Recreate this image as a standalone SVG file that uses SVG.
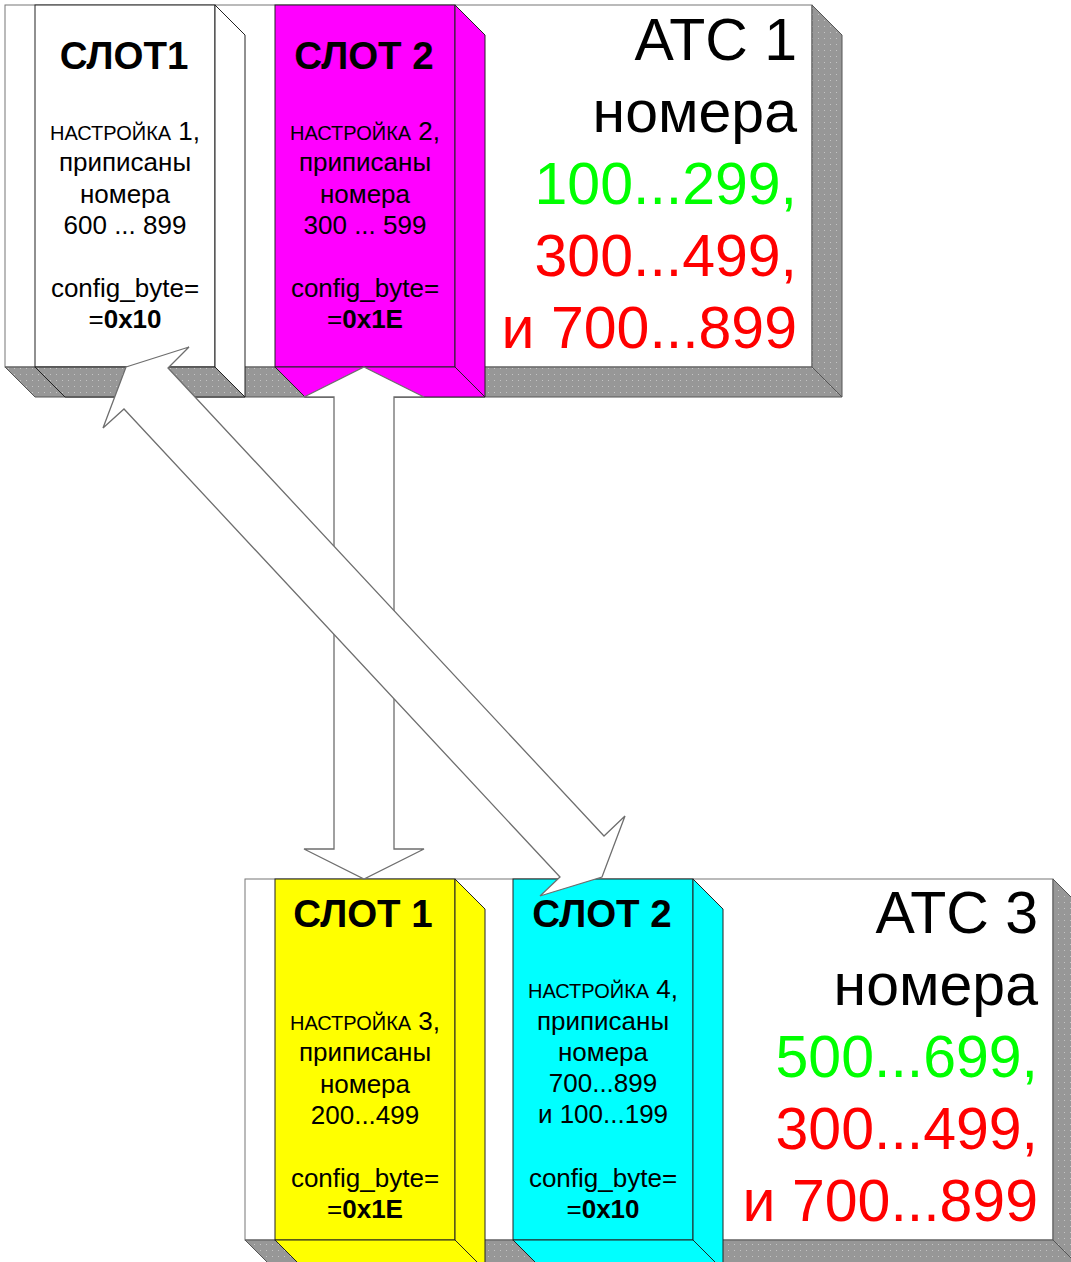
<svg xmlns="http://www.w3.org/2000/svg" width="1071" height="1262" viewBox="0 0 1071 1262">
<style>
text{font-family:"Liberation Sans",Arial,sans-serif;fill:#000}
.box{fill:#fff;stroke:#777;stroke-width:1}
.shade{fill:url(#dots);stroke:#555;stroke-width:1}
.slot{stroke:#222;stroke-width:1}
.title{font-size:38.5px;font-weight:bold;text-anchor:middle}
.body{font-size:26px;text-anchor:middle}
.sc{font-size:20px}
.big{font-size:59px;text-anchor:end}
.g{fill:#00ff00}
.r{fill:#ff0000}
.arrow{fill:#fff;stroke:#6e6e6e;stroke-width:1.3;stroke-linejoin:miter}
</style>
<defs>
<pattern id="dots" width="6" height="6" patternUnits="userSpaceOnUse">
<rect width="6" height="6" fill="#979797"/>
<rect x="2" y="2" width="1" height="1" fill="#c4c4c4"/>
</pattern>
</defs>
<rect width="1071" height="1262" fill="#fff"/>

<g id="atc1">
<rect class="box" x="5" y="5" width="807" height="362"/>
<polygon class="shade" points="812,5 842,35 842,397 812,367"/>
<polygon class="shade" points="5,367 812,367 842,397 35,397"/>
<text class="big" x="797" y="60">АТС 1</text>
<text class="big" x="797" y="132">номера</text>
<text class="big g" x="797" y="204">100...299,</text>
<text class="big r" x="797" y="276">300...499,</text>
<text class="big r" x="797" y="348">и 700...899</text>
</g>

<g id="atc1-slot1">
<rect class="slot" x="35" y="5" width="180" height="362" fill="#fff"/>
<polygon class="slot" points="215,5 245,35 245,397 215,367" fill="#fff"/>
<polygon class="slot" points="35,367 215,367 245,397 65,397" fill="url(#dots)"/>
<text class="title" x="124" y="69">СЛОТ1</text>
<text class="body" x="125" y="140"><tspan class="sc">НАСТРОЙКА</tspan> 1,</text>
<text class="body" x="125" y="171">приписаны</text>
<text class="body" x="125" y="203">номера</text>
<text class="body" x="125" y="234">600 ... 899</text>
<text class="body" x="125" y="297">config_byte=</text>
<text class="body" x="125" y="328">=<tspan font-weight="bold">0x10</tspan></text>
</g>

<g id="atc1-slot2">
<rect class="slot" x="275" y="5" width="180" height="362" fill="#ff00ff"/>
<polygon class="slot" points="455,5 485,35 485,397 455,367" fill="#ff00ff"/>
<polygon class="slot" points="275,367 455,367 485,397 305,397" fill="#ff00ff"/>
<text class="title" x="364" y="69">СЛОТ 2</text>
<text class="body" x="365" y="140"><tspan class="sc">НАСТРОЙКА</tspan> 2,</text>
<text class="body" x="365" y="171">приписаны</text>
<text class="body" x="365" y="203">номера</text>
<text class="body" x="365" y="234">300 ... 599</text>
<text class="body" x="365" y="297">config_byte=</text>
<text class="body" x="365" y="328">=<tspan font-weight="bold">0x1E</tspan></text>
</g>

<g id="atc3">
<rect class="box" x="245" y="879" width="808" height="361"/>
<polygon class="shade" points="1053,879 1083,909 1083,1270 1053,1240"/>
<polygon class="shade" points="245,1240 1053,1240 1083,1270 275,1270"/>
<text class="big" x="1038" y="933">АТС 3</text>
<text class="big" x="1038" y="1005">номера</text>
<text class="big g" x="1038" y="1077">500...699,</text>
<text class="big r" x="1038" y="1149">300...499,</text>
<text class="big r" x="1038" y="1221">и 700...899</text>
</g>

<g id="atc3-slot1">
<rect class="slot" x="275" y="879" width="180" height="361" fill="#ffff00"/>
<polygon class="slot" points="455,879 485,909 485,1270 455,1240" fill="#ffff00"/>
<polygon class="slot" points="275,1240 455,1240 485,1270 305,1270" fill="#ffff00"/>
<text class="title" x="363" y="927">СЛОТ 1</text>
<text class="body" x="365" y="1030"><tspan class="sc">НАСТРОЙКА</tspan> 3,</text>
<text class="body" x="365" y="1061">приписаны</text>
<text class="body" x="365" y="1093">номера</text>
<text class="body" x="365" y="1124">200...499</text>
<text class="body" x="365" y="1187">config_byte=</text>
<text class="body" x="365" y="1218">=<tspan font-weight="bold">0x1E</tspan></text>
</g>

<g id="atc3-slot2">
<rect class="slot" x="513" y="879" width="180" height="361" fill="#00ffff"/>
<polygon class="slot" points="693,879 723,909 723,1270 693,1240" fill="#00ffff"/>
<polygon class="slot" points="513,1240 693,1240 723,1270 543,1270" fill="#00ffff"/>
<text class="title" x="602" y="927">СЛОТ 2</text>
<text class="body" x="603" y="998"><tspan class="sc">НАСТРОЙКА</tspan> 4,</text>
<text class="body" x="603" y="1030">приписаны</text>
<text class="body" x="603" y="1061">номера</text>
<text class="body" x="603" y="1092">700...899</text>
<text class="body" x="603" y="1123">и 100...199</text>
<text class="body" x="603" y="1187">config_byte=</text>
<text class="body" x="603" y="1218">=<tspan font-weight="bold">0x10</tspan></text>
</g>

<g id="connectors">
<polygon id="arrow-vertical" class="arrow" points="364,367 424,397 394,397 394,849 424,849 364,879 304,849 334,849 334,397 304,397"/>
<polygon id="arrow-diagonal" class="arrow" points="126,367 189,347 168,368 604,836 625,816 602,877 540,896 560,877 124,409 103,428"/>
</g>
</svg>
